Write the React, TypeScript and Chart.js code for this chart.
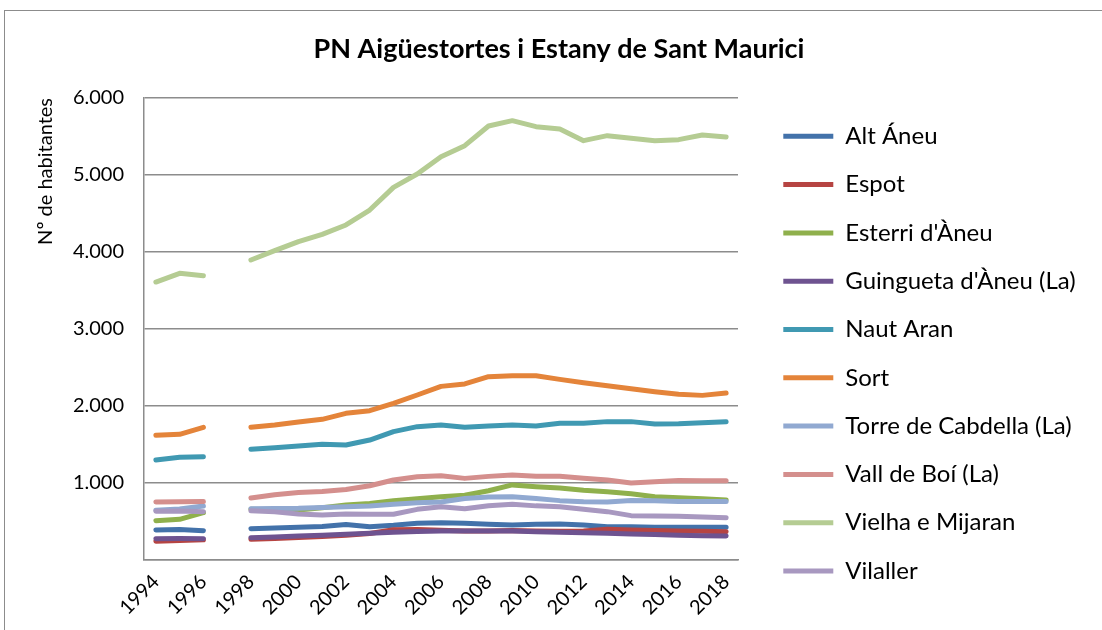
import React, { useEffect, useRef } from 'react';
import { Chart, registerables } from 'chart.js';

Chart.register(...registerables);

// ---- Data ----
const years = [
  '1994', '1995', '1996', '1997', '1998', '1999', '2000', '2001', '2002', '2003', '2004', '2005', '2006',
  '2007', '2008', '2009', '2010', '2011', '2012', '2013', '2014', '2015', '2016', '2017', '2018',
];

const altAneu = [390, 395, 381, null, 407, 415, 424, 435, 462, 433, 450, 476, 485, 476, 463, 455, 463, 468, 455, 433, 433, 426, 424, 424, 424];
const espot = [245, 252, 262, null, 268, 280, 292, 305, 320, 345, 392, 396, 385, 378, 378, 382, 378, 372, 378, 398, 390, 382, 377, 372, 368];
const esterriAneu = [511, 528, 615, null, 660, 650, 650, 680, 715, 735, 770, 796, 822, 840, 900, 975, 952, 935, 905, 885, 860, 822, 810, 796, 779];
const guinguetaAneu = [277, 280, 277, null, 290, 300, 312, 322, 333, 346, 360, 370, 377, 378, 377, 377, 368, 362, 355, 346, 338, 330, 320, 316, 312];
const nautAran = [1299, 1333, 1342, null, 1437, 1459, 1481, 1502, 1494, 1558, 1667, 1732, 1753, 1723, 1740, 1753, 1740, 1775, 1775, 1797, 1797, 1766, 1770, 1783, 1797];
const sort = [1619, 1632, 1723, null, 1723, 1753, 1792, 1827, 1905, 1939, 2035, 2143, 2255, 2286, 2381, 2394, 2394, 2346, 2303, 2264, 2225, 2186, 2152, 2138, 2169];
const torreCabdella = [645, 662, 700, null, 667, 670, 672, 682, 690, 701, 723, 744, 753, 798, 818, 822, 798, 771, 755, 752, 772, 770, 760, 760, 760];
const vallBoi = [753, 755, 760, null, 805, 848, 878, 890, 915, 965, 1039, 1080, 1095, 1060, 1086, 1104, 1088, 1088, 1061, 1039, 1000, 1015, 1034, 1028, 1028];
const vielhaMijaran = [3610, 3723, 3693, null, 3896, 4017, 4134, 4229, 4351, 4545, 4840, 5013, 5238, 5381, 5636, 5706, 5628, 5597, 5446, 5511, 5476, 5446, 5459, 5519, 5494];
const vilaller = [632, 635, 628, null, 641, 625, 597, 584, 597, 593, 595, 658, 692, 665, 705, 725, 703, 691, 660, 628, 576, 573, 568, 559, 548];

const seriesNames = [
  'Alt Áneu', 'Espot', "Esterri d'Àneu", "Guingueta d'Àneu (La)", 'Naut Aran',
  'Sort', 'Torre de Cabdella (La)', 'Vall de Boí (La)', 'Vielha e Mijaran', 'Vilaller',
];
const seriesColors = [
  '#4372AA', '#B64442', '#8FB04C', '#6E5390', '#4099B2',
  '#E4843A', '#91A9D1', '#D48F8D', '#B5CC93', '#A898C0',
];

const yTickValues = [0, 1000, 2000, 3000, 4000, 5000, 6000];
const titleText = 'PN Aigüestortes i Estany de Sant Maurici';
const yAxisTitle = 'Nº de habitantes';

const formatThousands = (v: number) => {
  if (v === 0) return '';
  const th = Math.floor(v / 1000);
  const rest = String(v % 1000).padStart(3, '0');
  return th > 0 ? `${th}.${rest}` : String(v);
};

const FONT = 'Lato';
const GRID = '#8c8c8c';

export default function App() {
  const ref = useRef<HTMLCanvasElement | null>(null);

  useEffect(() => {
    const canvas = ref.current;
    if (!canvas) return;
    const seriesData = [altAneu, espot, esterriAneu, guinguetaAneu, nautAran, sort, torreCabdella, vallBoi, vielhaMijaran, vilaller];

    const chart = new Chart(canvas, {
      type: 'line',
      data: {
        labels: years,
        datasets: seriesNames.map((name, i) => ({
          label: name,
          data: seriesData[i],
          borderColor: seriesColors[i],
          backgroundColor: seriesColors[i],
          borderWidth: 5,
          pointRadius: 0,
          pointHoverRadius: 0,
          borderCapStyle: 'round',
          borderJoinStyle: 'round',
          spanGaps: false,
          fill: false,
          tension: 0,
          order: seriesNames.length - i,
        })),
      },
      options: {
        responsive: false,
        animation: false,
        devicePixelRatio: 1,
        layout: { padding: { left: 33, right: 33, top: 0, bottom: 0 } },
        plugins: {
          tooltip: { enabled: false },
          title: {
            display: true,
            text: titleText,
            color: '#000',
            font: { family: FONT, size: 27, weight: 'bold', lineHeight: 1.2 },
            padding: { top: 33, bottom: 32.6 },
          },
          legend: {
            display: true,
            position: 'right',
            align: 'start',
            maxWidth: 326,
            title: { display: true, text: '', font: { size: 10, lineHeight: 1 }, padding: { top: 90, bottom: 0 } },
            labels: {
              sort: (a: any, b: any) => a.datasetIndex - b.datasetIndex,
              usePointStyle: true,
              pointStyle: 'line',
              pointStyleWidth: 50,
              padding: 24.3,
              color: '#000',
              font: { family: FONT, size: 24 },
            },
          },
        },
        scales: {
          x: {
            type: 'category',
            offset: true,
            grid: { display: false, drawTicks: false },
            border: { display: true, color: GRID, width: 1.5 },
            ticks: {
              autoSkip: false,
              minRotation: 45,
              maxRotation: 45,
              padding: 10,
              color: '#000',
              font: { family: FONT, size: 20 },
              callback: (_v: any, i: number) => (i % 2 === 0 ? years[i] : ''),
            },
            afterFit: (s: any) => { s.height = 70; },
          },
          y: {
            type: 'linear',
            position: 'left',
            min: 0,
            max: 6000,
            afterBuildTicks: (s: any) => { s.ticks = yTickValues.map((v) => ({ value: v })); },
            grid: { color: GRID, lineWidth: 1.5, drawTicks: false },
            border: { display: true, color: GRID, width: 1.5 },
            ticks: {
              padding: 20,
              color: '#000',
              font: { family: FONT, size: 20 },
              callback: (v: any) => formatThousands(Number(v)),
            },
            title: {
              display: true,
              text: yAxisTitle,
              align: 'end',
              color: '#000',
              font: { family: FONT, size: 20 },
              padding: { top: 1, bottom: 0 },
            },
            afterFit: (s: any) => { s.width = 111; },
          },
          yPad: {
            type: 'linear',
            position: 'right',
            display: true,
            grid: { display: false, drawTicks: false },
            border: { display: false },
            ticks: { display: false },
            afterFit: (s: any) => { s.width = 21; },
          },
        },
      },
    } as any);

    return () => chart.destroy();
  }, []);

  return (
    <div style={{ position: 'fixed', left: 0, top: 0, width: 1102, height: 630, overflow: 'hidden', background: '#fff' }}>
      <div style={{ position: 'absolute', left: 4, top: 10, width: 1300, height: 800, border: '1px solid #8c8c8c' }} />
      <canvas ref={ref} width={1118} height={630} style={{ position: 'absolute', left: 0, top: 0, width: 1118, height: 630 }} />
    </div>
  );
}
